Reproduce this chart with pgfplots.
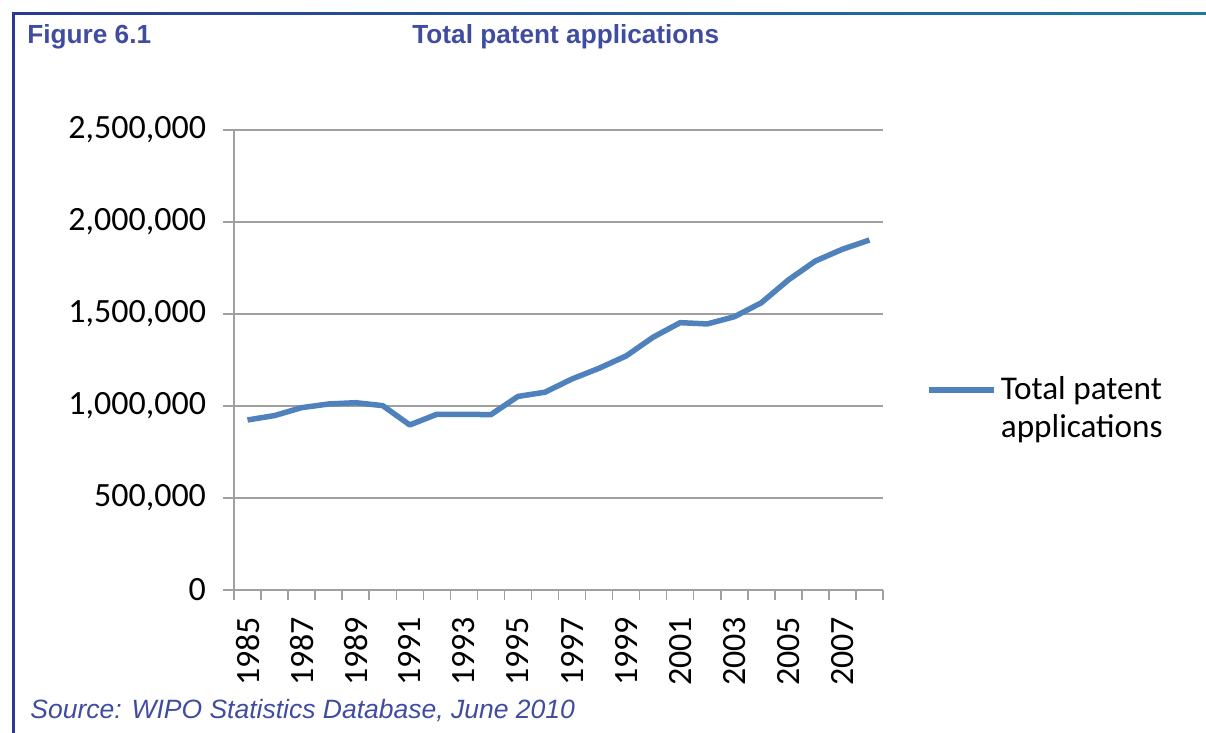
\documentclass[border=0pt]{standalone}
\usepackage{fontspec}
\setmainfont{Liberation Sans}
\newfontfamily\carlito{Carlito}
\usepackage{pgfplots}
\pgfplotsset{compat=1.18}
\definecolor{titleblue}{RGB}{64,76,160}
\definecolor{lineblue}{RGB}{79,129,189}
\definecolor{gridgray}{RGB}{160,160,160}
\definecolor{framenavy}{RGB}{43,57,144}
\definecolor{frameteal}{RGB}{27,122,158}
\pgfplotstableread{
x year value
0.5 1985 924000
1.5 1986 948000
2.5 1987 991000
3.5 1988 1011000
4.5 1989 1018000
5.5 1990 1002000
6.5 1991 897000
7.5 1992 955000
8.5 1993 955000
9.5 1994 953000
10.5 1995 1052000
11.5 1996 1075000
12.5 1997 1147000
13.5 1998 1205000
14.5 1999 1272000
15.5 2000 1374000
16.5 2001 1453000
17.5 2002 1446000
18.5 2003 1485000
19.5 2004 1561000
20.5 2005 1685000
21.5 2006 1788000
22.5 2007 1852000
23.5 2008 1902000
}\datatable
\begin{document}
\begin{tikzpicture}
\begin{scope}[x=0.5pt,y=-0.5pt]
\path[use as bounding box] (0,0) rectangle (1206,733);
\shade[left color=framenavy, right color=frameteal] (12,12.5) rectangle (1206,15);
\fill[framenavy] (12,12.5) rectangle (14.5,733);
\node[anchor=base west, inner sep=0, font=\bfseries\fontsize{13.1}{15}\selectfont, text=titleblue] at (27,44) {Figure 6.1};
\node[anchor=base west, inner sep=0, font=\bfseries\fontsize{13.1}{15}\selectfont, text=titleblue] at (412,44) {Total patent applications};
\node[anchor=base west, inner sep=0, font=\itshape\fontsize{13.25}{15}\selectfont, text=titleblue] at (30,718) {Source: WIPO Statistics Database, June 2010};
\end{scope}
\begin{axis}[
  at={(117pt,-295pt)}, anchor=south west,
  scale only axis, width=324.5pt, height=230pt,
  xmin=0, xmax=24, ymin=0, ymax=2500000,
  axis x line*=bottom, axis y line*=left,
  axis line style={draw=gridgray, line width=0.75pt, -},
  xtick={0.5,2.5,...,22.5},
  xticklabels={1985,1987,1989,1991,1993,1995,1997,1999,2001,2003,2005,2007},
  major x tick style={draw=none},
  minor xtick={0,1,...,24},
  minor tick length=5pt, major tick length=5.5pt,
  tick align=outside,
  ytick={0,500000,1000000,1500000,2000000,2500000},
  ymajorgrids, grid style={draw=gridgray, line width=0.75pt},
  tick style={draw=gridgray, line width=0.75pt},
  scaled y ticks=false,
  /pgf/number format/assume math mode=true,
  tick label style={font=\carlito\fontsize{17}{19}\selectfont, text=black},
  y tick label style={xshift=-5pt, /pgf/number format/.cd, fixed, 1000 sep={,}},
  x tick label style={yshift=-4.5pt, rotate=90, anchor=east},
  legend style={at={(axis description cs:1.057,0.394)}, anchor=west, draw=none, fill=none,
    font=\carlito\fontsize{16.6}{19}\selectfont, cells={align=left}},
  legend image code/.code={\draw[#1, line width=2.75pt] (0pt,9.5pt) -- (32.5pt,9.5pt);},
]
\addplot[lineblue, line width=2.75pt, line join=round] table[x=x, y=value] {\datatable};
\addlegendentry{Total patent\\applications}
\end{axis}
\end{tikzpicture}
\end{document}
